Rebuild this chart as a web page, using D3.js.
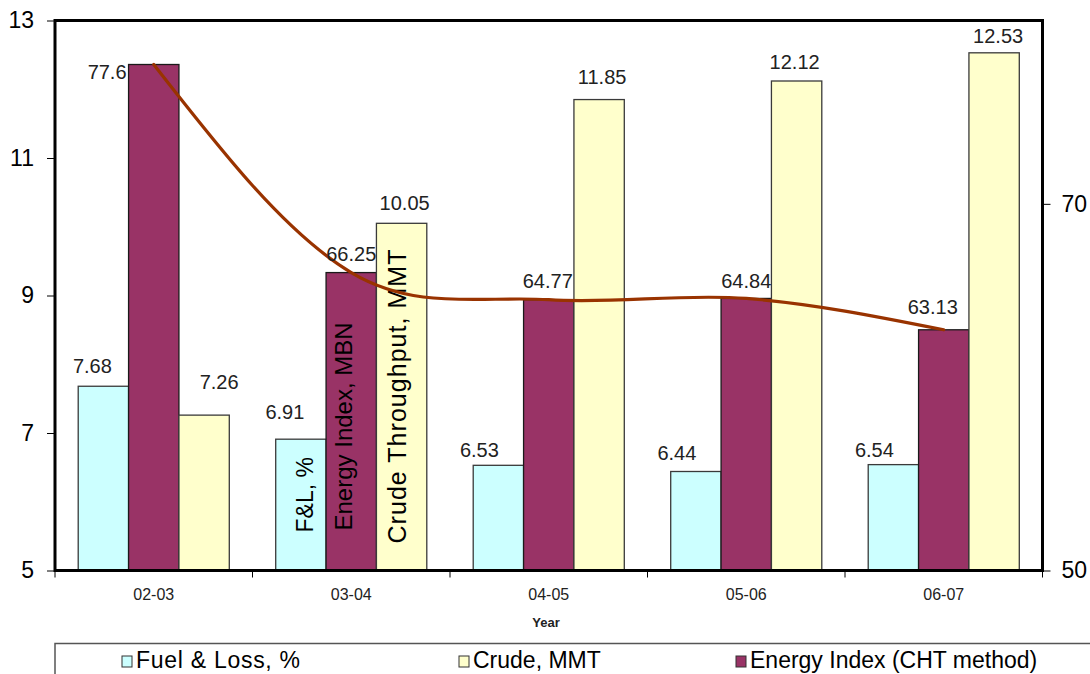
<!DOCTYPE html>
<html>
<head>
<meta charset="utf-8">
<script src="https://cdn.jsdelivr.net/npm/d3@7"></script>
<style>
  html, body { margin: 0; padding: 0; background: #fff; }
  svg { display: block; font-family: "Liberation Sans", Arial, sans-serif; }
</style>
</head>
<body>
<svg id="chart" width="1090" height="674"></svg>
<script>
// Refinery performance by financial year
const categories = ["02-03", "03-04", "04-05", "05-06", "06-07"];
const fuelLoss = [7.68, 6.91, 6.53, 6.44, 6.54];        // Fuel & Loss, %  (left axis)
const crude = [7.26, 10.05, 11.85, 12.12, 12.53];        // Crude, MMT      (left axis)
const energyIndex = [77.6, 66.25, 64.77, 64.84, 63.13];  // Energy Index    (right axis)

const leftTicks = [5, 7, 9, 11, 13];
const rightTicks = [50, 70];
const leftDomain = [5, 13];
const rightDomain = [50, 80];

// Label nudges per point: [dx from bar centre, gap above bar top]
const fuelLabelNudge = [[-11, 13], [-16, 20], [-19, 8], [-19, 12], [-19, 8]];
const crudeLabelNudge = [[15, 26], [3, 13], [3, 16], [-2, 12], [4, 10]];
const energyLabelNudge = [[null, -14], [0, 12], [-1, 12], [0, 10], [-11, 16]];

const svg = d3.select("#chart");
const plot = { left: 55, right: 1042.5, top: 20.5, bottom: 570.5 };

const x0 = d3.scaleBand().domain(categories).range([plot.left, plot.right]).padding(0);
const groupW = x0.bandwidth() * 0.765;
const series = [
  { key: "fuel", name: "Fuel & Loss, %", values: fuelLoss, axis: "left", fill: "#CCFFFF", stroke: "#3a3a3a", nudge: fuelLabelNudge },
  { key: "energy", name: "Energy Index (CHT method)", values: energyIndex, axis: "right", fill: "#993366", stroke: "#1a1a1a", nudge: energyLabelNudge },
  { key: "crude", name: "Crude, MMT", values: crude, axis: "left", fill: "#FFFFCC", stroke: "#3a3a3a", nudge: crudeLabelNudge }
];
const x1 = d3.scaleBand().domain(series.map(s => s.key))
  .range([(x0.bandwidth() - groupW) / 2, (x0.bandwidth() + groupW) / 2]).padding(0);

const yLeft = d3.scaleLinear().domain(leftDomain).range([plot.bottom, plot.top]);
const yRight = d3.scaleLinear().domain(rightDomain).range([plot.bottom, plot.top]);
const yOf = s => (s.axis === "left" ? yLeft : yRight);

// Bars
series.forEach(s => {
  svg.append("g").selectAll("rect")
    .data(s.values)
    .join("rect")
    .attr("x", (d, i) => x0(categories[i]) + x1(s.key))
    .attr("y", d => yOf(s)(d))
    .attr("width", x1.bandwidth())
    .attr("height", d => plot.bottom - yOf(s)(d))
    .attr("fill", s.fill)
    .attr("stroke", s.stroke)
    .attr("stroke-width", 1.3);
});

// Series names written up the bars of the 03-04 group
const barNotes = [
  { key: "fuel", text: "F&L, %", dx: 37, up: 38, size: 23, len: null },
  { key: "energy", text: "Energy Index, MBN", dx: 26, up: 40, size: 24, len: null },
  { key: "crude", text: "Crude Throughput, MMT", dx: 30, up: 27, size: 25, len: 294 }
];
const notes = svg.append("g").selectAll("text")
  .data(barNotes)
  .join("text")
  .attr("transform", d => `translate(${x0("03-04") + x1(d.key) + d.dx},${plot.bottom - d.up}) rotate(-90)`)
  .attr("font-size", d => d.size)
  .attr("fill", "#000")
  .text(d => d.text);
notes.filter(d => d.len).attr("textLength", d => d.len).attr("lengthAdjust", "spacing");

// Smoothed energy index trend: Catmull-Rom interior, natural (zero curvature) ends
function smoothPath(pts) {
  const n = pts.length;
  const p = d3.path();
  if (n < 2) return "";
  const tan = pts.map((pt, i) => {
    if (i === 0 || i === n - 1) return null;
    return [(pts[i + 1][0] - pts[i - 1][0]) / 6, (pts[i + 1][1] - pts[i - 1][1]) / 6];
  });
  p.moveTo(pts[0][0], pts[0][1]);
  for (let i = 0; i < n - 1; i++) {
    const a = pts[i], b = pts[i + 1];
    let c1, c2;
    if (tan[i + 1]) c2 = [b[0] - tan[i + 1][0], b[1] - tan[i + 1][1]];
    if (tan[i]) c1 = [a[0] + tan[i][0], a[1] + tan[i][1]];
    if (!c1 && c2) c1 = [(a[0] + c2[0]) / 2, (a[1] + c2[1]) / 2];
    if (!c2 && c1) c2 = [(b[0] + c1[0]) / 2, (b[1] + c1[1]) / 2];
    if (!c1 && !c2) { c1 = a; c2 = b; }
    p.bezierCurveTo(c1[0], c1[1], c2[0], c2[1], b[0], b[1]);
  }
  return p.toString();
}
const linePts = energyIndex.map((v, i) => [x0(categories[i]) + x0.bandwidth() / 2, yRight(v)]);
svg.append("path")
  .attr("d", smoothPath(linePts))
  .attr("fill", "none")
  .attr("stroke", "#993300")
  .attr("stroke-width", 3.2)
  .attr("stroke-linejoin", "round")
  .attr("stroke-linecap", "round");

// Value labels
series.forEach(s => {
  svg.append("g").selectAll("text")
    .data(s.values)
    .join("text")
    .attr("x", (d, i) => {
      const bx = x0(categories[i]) + x1(s.key);
      const n = s.nudge[i];
      return n[0] === null ? bx - 2 : bx + x1.bandwidth() / 2 + n[0];
    })
    .attr("y", (d, i) => yOf(s)(d) - s.nudge[i][1])
    .attr("text-anchor", (d, i) => (s.nudge[i][0] === null ? "end" : "middle"))
    .attr("font-size", 20)
    .attr("fill", "#222")
    .text(d => d);
});

// Plot frame
svg.append("rect")
  .attr("x", plot.left).attr("y", plot.top)
  .attr("width", plot.right - plot.left).attr("height", plot.bottom - plot.top)
  .attr("fill", "none").attr("stroke", "#000").attr("stroke-width", 3);

// Left axis
const gl = svg.append("g").attr("transform", `translate(${plot.left},0)`)
  .call(d3.axisLeft(yLeft).tickValues(leftTicks).tickSize(8).tickPadding(13).tickFormat(d3.format("d")));
gl.select(".domain").remove();
gl.selectAll("text").attr("font-size", 23).attr("font-family", "Liberation Sans, Arial, sans-serif").attr("fill", "#000");
gl.selectAll("line").attr("stroke", "#000");

// Right axis
const gr = svg.append("g").attr("transform", `translate(${plot.right},0)`)
  .call(d3.axisRight(yRight).tickValues(rightTicks).tickSize(8).tickPadding(11).tickFormat(d3.format("d")));
gr.select(".domain").remove();
gr.selectAll("text").attr("font-size", 23).attr("font-family", "Liberation Sans, Arial, sans-serif").attr("fill", "#000");
gr.selectAll("line").attr("stroke", "#000");

// Category axis: names at band centres, ticks at band edges
const gb = svg.append("g").attr("transform", `translate(0,${plot.bottom})`)
  .call(d3.axisBottom(x0).tickSize(0).tickPadding(18));
gb.select(".domain").remove();
gb.selectAll("text").attr("font-size", 16).attr("font-family", "Liberation Sans, Arial, sans-serif").attr("fill", "#222");
const edges = categories.map(c => x0(c)).concat([plot.right]);
svg.append("g").selectAll("line")
  .data(edges)
  .join("line")
  .attr("x1", d => d).attr("x2", d => d)
  .attr("y1", plot.bottom).attr("y2", plot.bottom + 7)
  .attr("stroke", "#000").attr("stroke-width", 1);

svg.append("text")
  .attr("x", 546).attr("y", 627)
  .attr("text-anchor", "middle")
  .attr("font-size", 13).attr("font-weight", "bold").attr("fill", "#222")
  .text("Year");

// Legend
svg.append("rect")
  .attr("x", 55).attr("y", 643.5).attr("width", 1060).attr("height", 60)
  .attr("fill", "#fff").attr("stroke", "#555").attr("stroke-width", 1.5);
const legendItems = [
  { s: series[0], x: 122, len: 164 },
  { s: series[2], x: 459, len: null },
  { s: series[1], x: 736, len: null }
];
const lg = svg.append("g").selectAll("g").data(legendItems).join("g")
  .attr("transform", d => `translate(${d.x},0)`);
lg.append("rect")
  .attr("x", 0).attr("y", 656).attr("width", 10).attr("height", 11)
  .attr("fill", d => d.s.fill).attr("stroke", "#333").attr("stroke-width", 1);
const lt = lg.append("text")
  .attr("x", 14).attr("y", 668)
  .attr("font-size", 23).attr("fill", "#000")
  .text(d => d.s.name);
lt.filter(d => d.len).attr("textLength", d => d.len).attr("lengthAdjust", "spacing");
</script>
</body>
</html>
